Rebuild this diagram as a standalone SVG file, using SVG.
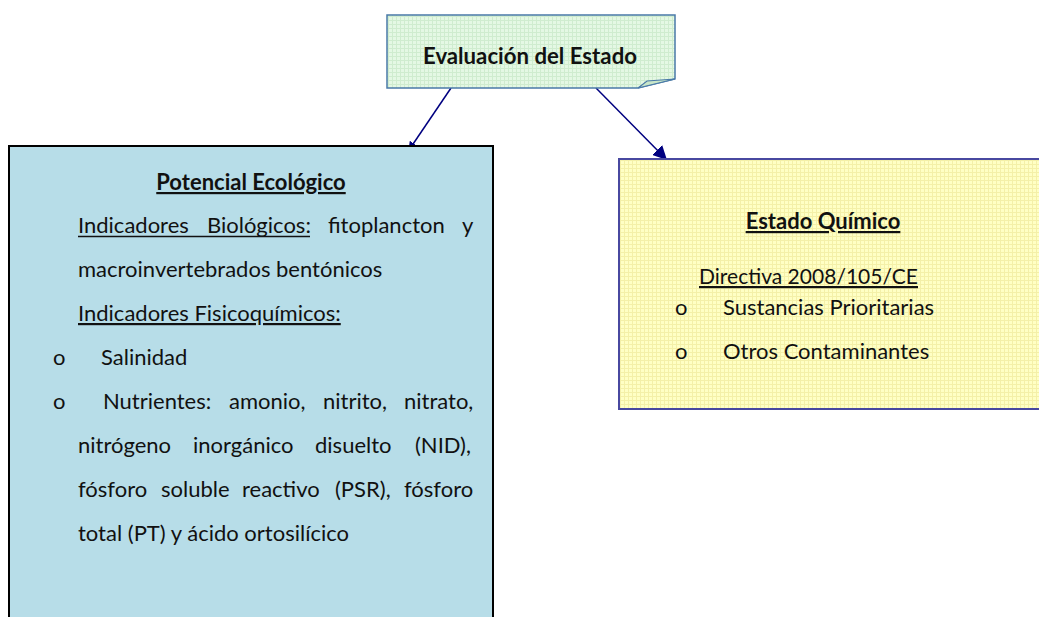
<svg xmlns="http://www.w3.org/2000/svg" width="1039" height="617" viewBox="0 0 1039 617">
<style>
text{font-family:Lato,"Liberation Sans",sans-serif;font-size:22px;fill:#111}
.b{font-weight:bold}
.u{text-decoration:underline}
.c{text-anchor:middle}
.conn{stroke:#000080;stroke-width:1.5;fill:none}
.ul{stroke:#111;stroke-width:1.6}
</style>
<defs>
<pattern id="gridG" width="4" height="4" patternUnits="userSpaceOnUse">
<rect width="4" height="4" fill="#e4f8e4"/>
<path d="M0 0.5H4M0.5 0V4" stroke="#cfeccf" stroke-width="1"/>
</pattern>
<pattern id="gridY" width="4" height="4" patternUnits="userSpaceOnUse">
<rect width="4" height="4" fill="#ffffc4"/>
<path d="M0 0.5H4M0.5 0V4" stroke="#f4f0a8" stroke-width="1"/>
</pattern>
<marker id="ah" viewBox="0 0 10 10" refX="9" refY="5" markerWidth="9" markerHeight="9" markerUnits="userSpaceOnUse" orient="auto">
<path d="M0 0L10 5L0 10z" fill="#000080"/>
</marker>
<marker id="ahBig" viewBox="0 0 10 10" refX="9" refY="5" markerWidth="14" markerHeight="14" markerUnits="userSpaceOnUse" orient="auto">
<path d="M0 0L10 5L0 10z" fill="#000080"/>
</marker>
</defs>
<g id="connectors">
<line class="conn" x1="451" y1="88" x2="409" y2="150" marker-end="url(#ah)"/>
<line class="conn" x1="596" y1="88" x2="666" y2="159" marker-end="url(#ahBig)"/>
</g>
<g id="node-evaluacion">
<path d="M387 15H675V79L638 88H387Z" fill="url(#gridG)" stroke="#4a7aa8" stroke-width="1.5"/>
<path d="M638 88L647 81L675 79Z" fill="#c8e6c8" stroke="#4a7aa8" stroke-width="1.2"/>
<text class="b c" x="530" y="64" textLength="214" lengthAdjust="spacingAndGlyphs">Evaluación del Estado</text>
</g>
<g id="node-potencial">
<rect x="9" y="146" width="484" height="480" fill="#b7dde8" stroke="#000" stroke-width="2"/>
<text class="b u c" x="251" y="190">Potencial Ecológico</text>
<text y="233"><tspan x="78">Indicadores</tspan><tspan x="207">Biológicos:</tspan><tspan x="328">fitoplancton</tspan><tspan x="462">y</tspan></text>
<line class="ul" x1="78" y1="236.5" x2="310" y2="236.5"/>
<text x="78" y="277">macroinvertebrados bentónicos</text>
<text class="u" x="78" y="321">Indicadores Fisicoquímicos:</text>
<text x="53" y="365">o</text>
<text x="101" y="365">Salinidad</text>
<text y="409"><tspan x="53">o</tspan><tspan x="103">Nutrientes:</tspan><tspan x="229">amonio,</tspan><tspan x="323">nitrito,</tspan><tspan x="404">nitrato,</tspan></text>
<text y="453"><tspan x="78">nitrógeno</tspan><tspan x="193">inorgánico</tspan><tspan x="315">disuelto</tspan><tspan x="415">(NID),</tspan></text>
<text y="497"><tspan x="78">fósforo</tspan><tspan x="161">soluble</tspan><tspan x="242">reactivo</tspan><tspan x="335">(PSR),</tspan><tspan x="404">fósforo</tspan></text>
<text x="78" y="541">total (PT) y ácido ortosilícico</text>
</g>
<g id="node-quimico">
<rect x="619" y="159" width="425" height="250" fill="url(#gridY)" stroke="#4848a0" stroke-width="2"/>
<text class="b u c" x="823" y="229">Estado Químico</text>
<text class="u" x="699" y="284" textLength="219" lengthAdjust="spacingAndGlyphs">Directiva 2008/105/CE</text>
<text x="675" y="315">o</text>
<text x="723" y="315">Sustancias Prioritarias</text>
<text x="675" y="359">o</text>
<text x="723" y="359">Otros Contaminantes</text>
</g>
</svg>
